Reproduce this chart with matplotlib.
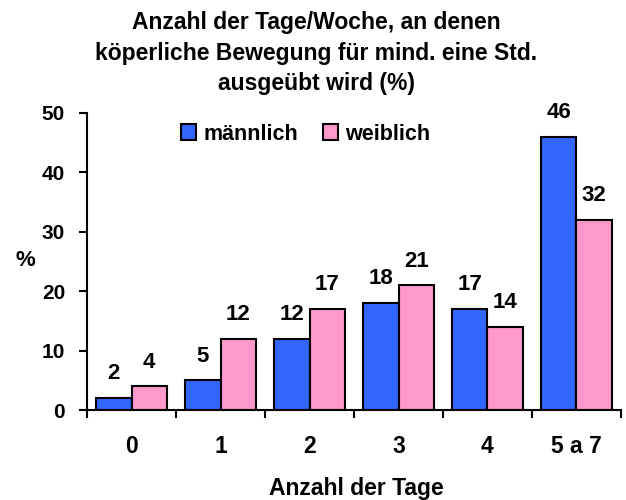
import matplotlib
matplotlib.use("Agg")
import matplotlib.pyplot as plt
import numpy as np

categories = ["0", "1", "2", "3", "4", "5 a 7"]
maennlich = [2, 5, 12, 18, 17, 46]
weiblich = [4, 12, 17, 21, 14, 32]
series_names = ["männlich", "weiblich"]
colors = ["#3366FF", "#FF99CC"]

plt.rcParams['font.family'] = ['Liberation Sans', 'DejaVu Sans']
plt.rcParams['font.weight'] = 'bold'

fig = plt.figure(figsize=(6.26, 5.0), dpi=100)
ax = fig.add_axes([0.139, 0.18, 0.853, 0.594])

x = np.arange(len(categories))
w = 0.4
b1 = ax.bar(x - w/2, maennlich, w, color=colors[0], edgecolor='black', linewidth=1.5, label=series_names[0])
b2 = ax.bar(x + w/2, weiblich, w, color=colors[1], edgecolor='black', linewidth=1.5, label=series_names[1])

for bars, vals in ((b1, maennlich), (b2, weiblich)):
    for r, v in zip(bars, vals):
        ax.text(r.get_x() + r.get_width()/2, v + 2.3, str(v), ha='center', va='bottom',
                fontsize=16, fontweight='bold')

ax.set_xlim(-0.5, len(categories) - 0.5)
ax.set_ylim(0, 50)
ax.set_yticks([0, 10, 20, 30, 40, 50])
ax.tick_params(axis='y', labelsize=15, width=1.5, length=5.8, pad=10, direction='out')
ax.set_xticks(x)
ax.set_xticklabels(categories, fontsize=16.5, fontweight='bold')
ax.tick_params(axis='x', which='major', length=0, pad=18)
ax.set_xticks(np.arange(-0.5, len(categories)), minor=True)
ax.tick_params(axis='x', which='minor', length=6, width=1.5, direction='out')
for lab in ax.get_yticklabels():
    lab.set_fontweight('bold')

for s in ['top', 'right']:
    ax.spines[s].set_visible(False)
for s in ['left', 'bottom']:
    ax.spines[s].set_linewidth(1.5)

fig.text(0.569, 0.01, "Anzahl der Tage", ha='center', va='baseline', fontsize=16.5, fontweight='bold')
fig.text(0.04, 0.478, "%", ha='center', va='center', fontsize=16, fontweight='bold')

fig.text(0.505, 0.978, "Anzahl der Tage/Woche, an denen\nköperliche Bewegung für mind. eine Std.\nausgeübt wird (%)",
         ha='center', va='top', fontsize=16.5, fontweight='bold', linespacing=1.42)

leg = ax.legend(loc='center left', bbox_to_anchor=(0.289, 0.732), bbox_transform=fig.transFigure,
                ncol=2, frameon=False, fontsize=15.5, handlelength=0.7, handleheight=0.7,
                handletextpad=0.33, columnspacing=1.16, borderaxespad=0, borderpad=0)
for t in leg.get_texts():
    t.set_fontweight('bold')

fig.savefig("out.png", dpi=100)
